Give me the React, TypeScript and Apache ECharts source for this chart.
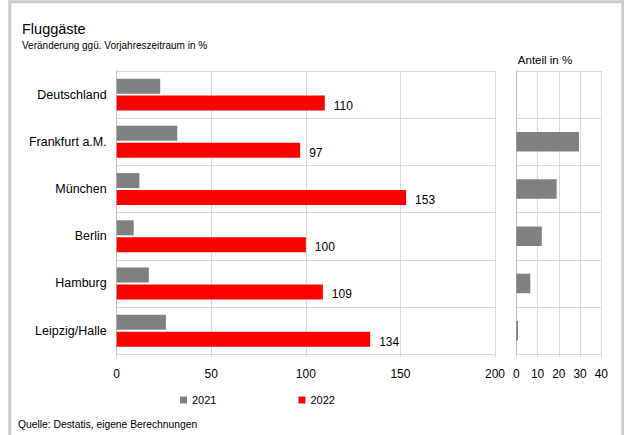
import React, { useEffect, useRef } from "react";
import * as echarts from "echarts";

const categories = ["Deutschland", "Frankfurt a.M.", "München", "Berlin", "Hamburg", "Leipzig/Halle"];
const values2021 = [23, 32, 12, 9, 17, 26];
const values2022 = [110, 97, 153, 100, 109, 134];
const shareValues: (number | null)[] = [null, 29.5, 19, 12, 6.6, 0.8];
const leftTicks = { min: 0, max: 200, interval: 50 };
const rightTicks = { min: 0, max: 40, interval: 10 };

const FONT = "'Liberation Sans', Arial, sans-serif";
const GRID_COLOR = "#d9d9d9";
const GRAY = "#808080";
const RED = "#ff0000";

export default function App() {
  const ref = useRef<HTMLDivElement>(null);
  useEffect(() => {
    if (!ref.current) return;
    const chart = echarts.init(ref.current, null, { renderer: "svg" });
    const option: any = {
      animation: false,
      textStyle: { fontFamily: FONT },
      graphic: [
        {
          type: "rect",
          shape: { x: 9.8, y: 1.7, width: 613, height: 500 },
          style: { fill: "none", stroke: "#cccccc", lineWidth: 3 },
          silent: true,
        },
        {
          type: "text",
          x: 22,
          y: 21.5,
          style: { text: "Fluggäste", fontSize: 14.5, fontFamily: FONT, fill: "#000", textVerticalAlign: "top" },
        },
        {
          type: "text",
          x: 22,
          y: 40,
          style: {
            text: "Veränderung ggü. Vorjahreszeitraum in %",
            fontSize: 10,
            fontFamily: FONT,
            fill: "#000",
            textVerticalAlign: "top",
          },
        },
        {
          type: "text",
          x: 545,
          y: 60,
          style: {
            text: "Anteil in %",
            fontSize: 11.5,
            fontFamily: FONT,
            fill: "#000",
            textAlign: "center",
            textVerticalAlign: "middle",
          },
        },
        {
          type: "text",
          x: 18,
          y: 424,
          style: {
            text: "Quelle: Destatis, eigene Berechnungen",
            fontSize: 10.3,
            fontFamily: FONT,
            fill: "#000",
            textVerticalAlign: "middle",
          },
        },
      ],
      legend: {
        data: ["2021", "2022"],
        left: 180,
        top: 394.5,
        padding: 0,
        icon: "rect",
        itemWidth: 7,
        itemHeight: 7,
        itemGap: 82,
        textStyle: { fontSize: 11, fontFamily: FONT, color: "#000", padding: [0, 0, 0, 0] },
      },
      grid: [
        { left: 116.7, right: 129, top: 71, bottom: 80.7 },
        { left: 516.3, right: 22.7, top: 71, bottom: 80.7 },
      ],
      xAxis: [
        {
          type: "value",
          gridIndex: 0,
          min: leftTicks.min,
          max: leftTicks.max,
          interval: leftTicks.interval,
          axisLine: { show: true, lineStyle: { color: GRID_COLOR } },
          axisTick: { show: true, length: 3, lineStyle: { color: GRID_COLOR } },
          splitLine: { show: true, lineStyle: { color: GRID_COLOR } },
          axisLabel: { fontSize: 12, fontFamily: FONT, color: "#000", margin: 14 },
        },
        {
          type: "value",
          gridIndex: 1,
          min: rightTicks.min,
          max: rightTicks.max,
          interval: rightTicks.interval,
          axisLine: { show: true, lineStyle: { color: GRID_COLOR } },
          axisTick: { show: true, length: 3, lineStyle: { color: GRID_COLOR } },
          splitLine: { show: true, lineStyle: { color: GRID_COLOR } },
          axisLabel: { fontSize: 12, fontFamily: FONT, color: "#000", margin: 14 },
        },
      ],
      yAxis: [
        {
          type: "category",
          gridIndex: 0,
          data: categories,
          inverse: true,
          axisLine: { show: true, lineStyle: { color: "#bfbfbf" } },
          axisTick: { show: false },
          splitLine: { show: true, lineStyle: { color: GRID_COLOR } },
          axisLabel: { fontSize: 12.5, fontFamily: FONT, color: "#000", margin: 10 },
        },
        {
          type: "category",
          gridIndex: 1,
          data: categories,
          inverse: true,
          axisLine: { show: true, lineStyle: { color: "#bfbfbf" } },
          axisTick: { show: false },
          splitLine: { show: true, lineStyle: { color: GRID_COLOR } },
          axisLabel: { show: false },
        },
      ],
      series: [
        {
          name: "2021",
          type: "bar",
          xAxisIndex: 0,
          yAxisIndex: 0,
          data: values2021,
          barWidth: 15,
          barGap: "13%",
          itemStyle: { color: GRAY },
        },
        {
          name: "2022",
          type: "bar",
          xAxisIndex: 0,
          yAxisIndex: 0,
          data: values2022,
          barWidth: 15,
          barGap: "13%",
          itemStyle: { color: RED },
          label: {
            show: true,
            position: "right",
            distance: 9,
            offset: [0, 2.5],
            fontSize: 12,
            fontFamily: FONT,
            color: "#000",
          },
        },
        {
          name: "Anteil",
          type: "bar",
          xAxisIndex: 1,
          yAxisIndex: 1,
          data: shareValues,
          barWidth: 19.5,
          itemStyle: { color: GRAY },
        },
      ],
    };
    chart.setOption(option);
    return () => chart.dispose();
  }, []);
  return (
    <div
      ref={ref}
      style={{ position: "fixed", left: 0, top: 0, width: 624, height: 435, background: "#fff" }}
    />
  );
}
